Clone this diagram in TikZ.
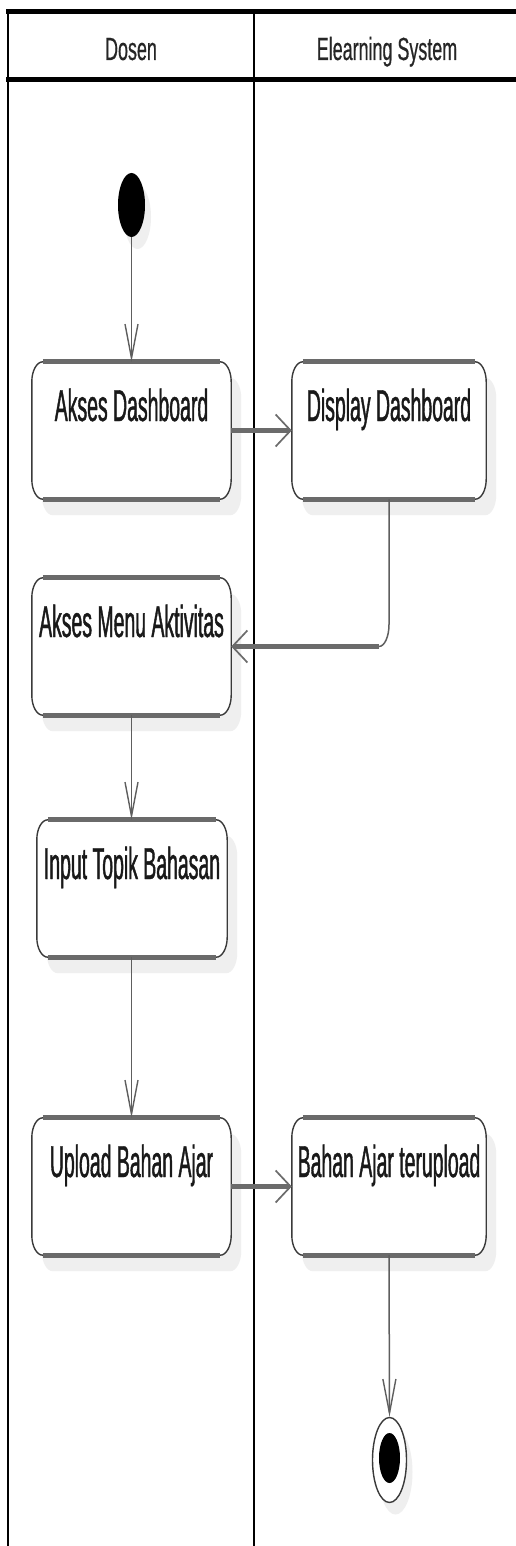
\documentclass[tikz,border=0pt]{standalone}
\usepackage{fontspec}
\usetikzlibrary{arrows.meta,shapes.geometric}
\newfontfamily\boxfont[FakeStretch=0.435,FakeBold=0.9]{Liberation Sans}
\newfontfamily\headfont[FakeStretch=0.56,FakeBold=0.5]{Liberation Sans}
\pgfdeclarelayer{background}
\pgfsetlayers{background,main}
\definecolor{shadowc}{HTML}{EFEFEF}
\definecolor{edgec}{HTML}{6A6A6A}
\definecolor{sidec}{HTML}{3A3A3A}
\definecolor{linec}{HTML}{5E5E5E}
\newcommand\roundbox[4]{%
 \path[#2] ([xshift=#3+11pt,yshift=#4]#1.north west) -- ([xshift=#3-11pt,yshift=#4]#1.north east)
   arc[start angle=90,end angle=0,x radius=11pt,y radius=20pt]
   -- ([xshift=#3,yshift=#4+20pt]#1.south east)
   arc[start angle=0,end angle=-90,x radius=11pt,y radius=20pt]
   -- ([xshift=#3+11pt,yshift=#4]#1.south west)
   arc[start angle=270,end angle=180,x radius=11pt,y radius=20pt]
   -- ([xshift=#3,yshift=#4-20pt]#1.north west)
   arc[start angle=180,end angle=90,x radius=11pt,y radius=20pt] -- cycle;}
\newcommand\activitybox[1]{%
 \begin{pgfonlayer}{background}
  \roundbox{#1}{fill=shadowc}{10pt}{-16pt}
  \roundbox{#1}{fill=white}{0pt}{0pt}
 \end{pgfonlayer}
 \roundbox{#1}{draw=sidec,line width=1.4pt}{0pt}{0pt}
 \draw[draw=edgec,line width=5pt] ([xshift=11pt]#1.north west) -- ([xshift=-11pt]#1.north east);
 \draw[draw=edgec,line width=5pt] ([xshift=11pt]#1.south west) -- ([xshift=-11pt]#1.south east);}
\tikzset{
  act/.style={rectangle, inner sep=0pt, text height=59pt, text depth=78pt,
    font=\boxfont\fontsize{44.7}{50}\selectfont, text=black!90},
  lanehead/.style={inner sep=0pt, anchor=base, font=\headfont\fontsize{32}{36}\selectfont, text=black!85},
  laneline/.style={draw=black, line width=2.6pt},
  laneedge/.style={draw=black, line width=5pt},
  vline/.style={draw=linec, line width=1.5pt},
  hline/.style={draw=black!58, line width=5pt},
  vhead/.tip={Straight Barb[length=34pt, width=13pt, line width=1.4pt]},
  hhead/.tip={Straight Barb[length=15pt, width=32pt, line width=1.7pt]},
}
\begin{document}
\begin{tikzpicture}[x=1pt,y=-1pt]
\useasboundingbox (0,0) rectangle (516,1546);
\begin{pgfonlayer}{background}
\fill[white] (0,0) rectangle (516,1546);
\end{pgfonlayer}
% swimlanes
\draw[laneline] (8,12) -- (8,1546);
\draw[laneline] (254,12) -- (254,1546);
\draw[laneedge] (6,12) -- (516,12);
\draw[laneedge] (6,80) -- (516,80);
\node[lanehead] (hdosen) at (131,60) {Dosen};
\node[lanehead] (hsys) at (387,60) {Elearning System};
% shadows of the round nodes
\begin{pgfonlayer}{background}
\fill[shadowc] (137.5,217) ellipse [x radius=13.5pt, y radius=32pt];
\fill[shadowc] (395.5,1472) ellipse [x radius=17pt, y radius=42.5pt];
\end{pgfonlayer}
% start
\node[ellipse, fill=black, minimum width=27pt, minimum height=64pt, inner sep=0pt] (start) at (131.5,205) {};
% activities
\node[act, minimum width=199pt] (a1) at (131.5,430.5) {Akses Dashboard};
\node[act, minimum width=194pt] (dd) at (389,430.5) {Display Dashboard};
\node[act, minimum width=199pt] (am) at (131.5,646.5) {Akses Menu Aktivitas};
\node[act, minimum width=190pt] (it) at (132,888.5) {Input Topik Bahasan};
\node[act, minimum width=199pt] (ub) at (131.5,1186.5) {Upload Bahan Ajar};
\node[act, minimum width=194pt] (bt) at (389,1186.5) {Bahan Ajar terupload};
\activitybox{a1}
\activitybox{dd}
\activitybox{am}
\activitybox{it}
\activitybox{ub}
\activitybox{bt}
% end
\node[ellipse, draw=sidec, line width=1.4pt, fill=white, minimum width=34pt, minimum height=85pt, inner sep=0pt] (end) at (389.5,1460) {};
\node[ellipse, fill=black, minimum width=21pt, minimum height=50pt, inner sep=0pt] (endin) at (389.5,1458) {};
% connectors
\draw[vline, -{vhead}] (start.south) -- (a1.north);
\draw[hline, -{hhead}] (a1.east) -- (dd.west);
\coordinate (c1) at (dd.south |- am.east);
\draw[vline] (dd.south) -- ([yshift=22pt]c1) arc[start angle=0, end angle=-90, x radius=10pt, y radius=22pt];
\draw[hline, -{hhead}] ([xshift=-10pt]c1) -- (am.east);
\draw[vline, -{vhead}] (am.south) -- (it.north -| am.south);
\draw[vline, -{vhead}] (it.south -| ub.north) -- (ub.north);
\draw[hline, -{hhead}] (ub.east) -- (bt.west);
\draw[vline, -{vhead}] (bt.south) -- (end.north);
\end{tikzpicture}
\end{document}
